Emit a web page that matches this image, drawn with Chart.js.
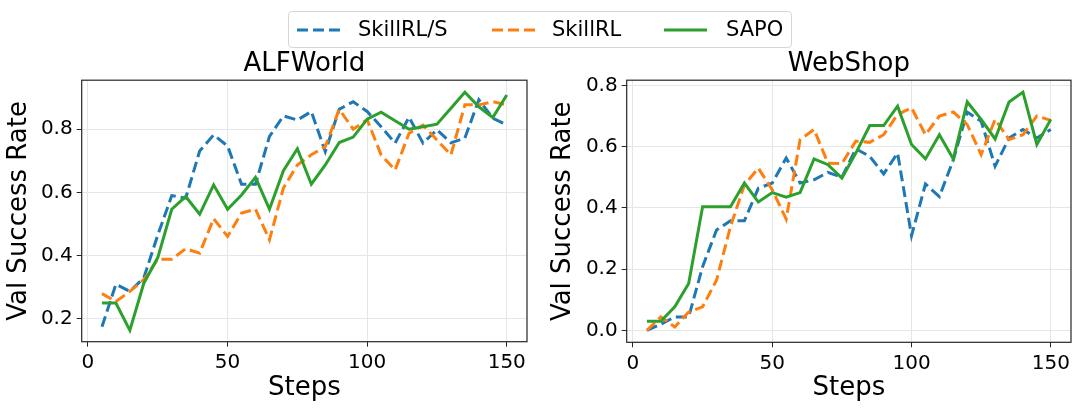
<!DOCTYPE html>
<html>
<head>
<meta charset="utf-8">
<script src="https://cdn.jsdelivr.net/npm/chart.js@4.4.1/dist/chart.umd.min.js"></script>
<style>
  body { margin: 0; background: #fff; }
  #wrap { position: relative; width: 1080px; height: 411px; font-family: "DejaVu Sans", sans-serif; }
  .box { position: absolute; top: 0; width: 540px; height: 411px; }
  #legend { position: absolute; left: 288px; top: 11px; width: 502px; height: 35px;
    border: 1px solid #d6d6d6; border-radius: 4px; background: #fff; z-index: 2; }
  .item { position: absolute; top: 0; height: 35px; font-size: 21px; line-height: 35px; color: #000; }
  .item svg { position: absolute; top: 16px; }
</style>
</head>
<body>
<div id="wrap">
  <div class="box" style="left:0"><canvas id="chart-alf"></canvas></div>
  <div class="box" style="left:540px"><canvas id="chart-web"></canvas></div>
  <div id="legend"></div>
</div>
<script>
const steps = [5, 10, 15, 20, 25, 30, 35, 40, 45, 50, 55, 60, 65, 70, 75,
  80, 85, 90, 95, 100, 105, 110, 115, 120, 125, 130, 135, 140, 145, 150];

const seriesNames = ["SkillRL/S", "SkillRL", "SAPO"];
const seriesColors = ["#1f77b4", "#ff7f0e", "#2ca02c"];

// ALFWorld
const alfSkillRLS = [0.175, 0.31, 0.287, 0.33, 0.465, 0.59, 0.582, 0.731, 0.782, 0.747, 0.626, 0.626, 0.777, 0.842, 0.829,
  0.856, 0.729, 0.863, 0.887, 0.856, 0.808, 0.756, 0.838, 0.756, 0.798, 0.757, 0.772, 0.893, 0.835, 0.814];
const alfSkillRL = [0.28, 0.255, 0.287, 0.324, 0.389, 0.389, 0.422, 0.408, 0.517, 0.461, 0.535, 0.547, 0.45, 0.614, 0.687,
  0.719, 0.745, 0.863, 0.8, 0.83, 0.719, 0.671, 0.787, 0.813, 0.766, 0.719, 0.877, 0.877, 0.887, 0.877];
const alfSAPO = [0.25, 0.25, 0.164, 0.313, 0.394, 0.547, 0.587, 0.531, 0.624, 0.547, 0.592, 0.648, 0.547, 0.669, 0.738,
  0.626, 0.687, 0.758, 0.775, 0.832, 0.854, 0.827, 0.8, 0.808, 0.816, 0.866, 0.917, 0.871, 0.837, 0.908];

// WebShop
const webSkillRLS = [0.0, 0.02, 0.044, 0.044, 0.208, 0.328, 0.358, 0.358, 0.464, 0.481, 0.563, 0.481, 0.492, 0.516, 0.5,
  0.593, 0.568, 0.511, 0.579, 0.309, 0.478, 0.437, 0.557, 0.713, 0.683, 0.536, 0.628, 0.656, 0.628, 0.656];
const webSkillRL = [0.0, 0.044, 0.011, 0.06, 0.077, 0.164, 0.339, 0.475, 0.53, 0.459, 0.363, 0.623, 0.656, 0.546, 0.545,
  0.618, 0.614, 0.639, 0.705, 0.727, 0.639, 0.7, 0.713, 0.672, 0.574, 0.689, 0.623, 0.639, 0.7, 0.686];
const webSAPO = [0.03, 0.03, 0.077, 0.153, 0.404, 0.404, 0.404, 0.481, 0.419, 0.45, 0.435, 0.45, 0.56, 0.541, 0.497,
  0.579, 0.669, 0.669, 0.732, 0.607, 0.56, 0.639, 0.56, 0.746, 0.689, 0.625, 0.746, 0.778, 0.607, 0.689];

const xTicks = [0, 50, 100, 150];
const alfYTicks = [0.2, 0.4, 0.6, 0.8];
const webYTicks = [0.0, 0.2, 0.4, 0.6, 0.8];

const FONT = "'DejaVu Sans', sans-serif";

// draws the box round the plot area
const framePlugin = {
  id: "frame",
  afterDraw(chart) {
    const a = chart.chartArea;
    const c = chart.ctx;
    c.save();
    c.strokeStyle = "#262626";
    c.lineWidth = 1.2;
    c.strokeRect(a.left, a.top, a.right - a.left, a.bottom - a.top);
    c.restore();
  },
};

function makeDataset(i, values) {
  return {
    label: seriesNames[i],
    data: steps.map((s, k) => ({ x: s, y: values[k] })),
    borderColor: seriesColors[i],
    backgroundColor: seriesColors[i],
    borderWidth: 3,
    borderDash: i < 2 ? [11, 5] : [],
    pointRadius: 0,
    tension: 0,
    order: 2 - i,
  };
}

function makeChart(id, title, values, yMin, yMax, yTicks, box) {
  const ctx = document.getElementById(id).getContext("2d");
  return new Chart(ctx, {
    type: "line",
    data: { datasets: values.map((v, i) => makeDataset(i, v)) },
    options: {
      responsive: true,
      maintainAspectRatio: false,
      animation: false,
      layout: { padding: { left: 0, right: box.right, top: 0, bottom: 0 } },
      plugins: {
        legend: { display: false },
        tooltip: { enabled: false },
        title: {
          display: true,
          text: title,
          fullSize: false,
          color: "#000",
          font: { family: FONT, size: 26, weight: "normal" },
          padding: { top: box.titleTop, bottom: 0 },
        },
      },
      scales: {
        x: {
          type: "linear",
          min: -2.25,
          max: 157.25,
          afterBuildTicks: (scale) => { scale.ticks = xTicks.map((v) => ({ value: v })); },
          afterFit: (scale) => { scale.height = box.xHeight; },
          grid: { color: "#e6e6e6", tickColor: "#262626", tickLength: 5 },
          border: { display: false },
          ticks: { color: "#000", font: { family: FONT, size: 20 }, padding: 4, maxRotation: 0 },
          title: {
            display: true,
            text: "Steps",
            color: "#000",
            font: { family: FONT, size: 26 },
            padding: { top: 0, bottom: 7 },
          },
        },
        y: {
          min: yMin,
          max: yMax,
          afterBuildTicks: (scale) => { scale.ticks = yTicks.map((v) => ({ value: v })); },
          afterFit: (scale) => { scale.width = box.yWidth; },
          grid: { color: "#e6e6e6", tickColor: "#262626", tickLength: 5 },
          border: { display: false },
          ticks: {
            color: "#000",
            font: { family: FONT, size: 20 },
            padding: 4,
            callback: (v) => Number(v).toFixed(1),
          },
          title: {
            display: true,
            text: "Val Success Rate",
            color: "#000",
            font: { family: FONT, size: 26 },
            padding: { top: box.yTitlePad, bottom: 0 },
          },
        },
      },
    },
    plugins: [framePlugin],
  });
}

makeChart("chart-alf", "ALFWorld", [alfSkillRLS, alfSkillRL, alfSAPO], 0.128, 0.955, alfYTicks,
  { right: 13, titleTop: 49, xHeight: 69.3, yWidth: 81.7, yTitlePad: 4 });
makeChart("chart-web", "WebShop", [webSkillRLS, webSkillRL, webSAPO], -0.039, 0.817, webYTicks,
  { right: 9, titleTop: 49, xHeight: 68.7, yWidth: 86.7, yTitlePad: 8 });

// shared legend over both panels
const legendEl = document.getElementById("legend");
const legendX = [8, 203, 375];
const textX = [69, 263, 437];
seriesNames.forEach((name, i) => {
  const item = document.createElement("div");
  item.className = "item";
  item.style.left = legendX[i] + "px";
  item.style.width = (textX[i] - legendX[i] + 120) + "px";
  const dash = i < 2 ? ' stroke-dasharray="11 5"' : "";
  item.innerHTML =
    '<svg width="44" height="4"><line x1="0" y1="2" x2="43" y2="2" stroke="' + seriesColors[i] +
    '" stroke-width="3"' + dash + "/></svg>" +
    '<span style="position:absolute;left:' + (textX[i] - legendX[i]) + 'px">' + name + "</span>";
  legendEl.appendChild(item);
});
</script>
</body>
</html>
